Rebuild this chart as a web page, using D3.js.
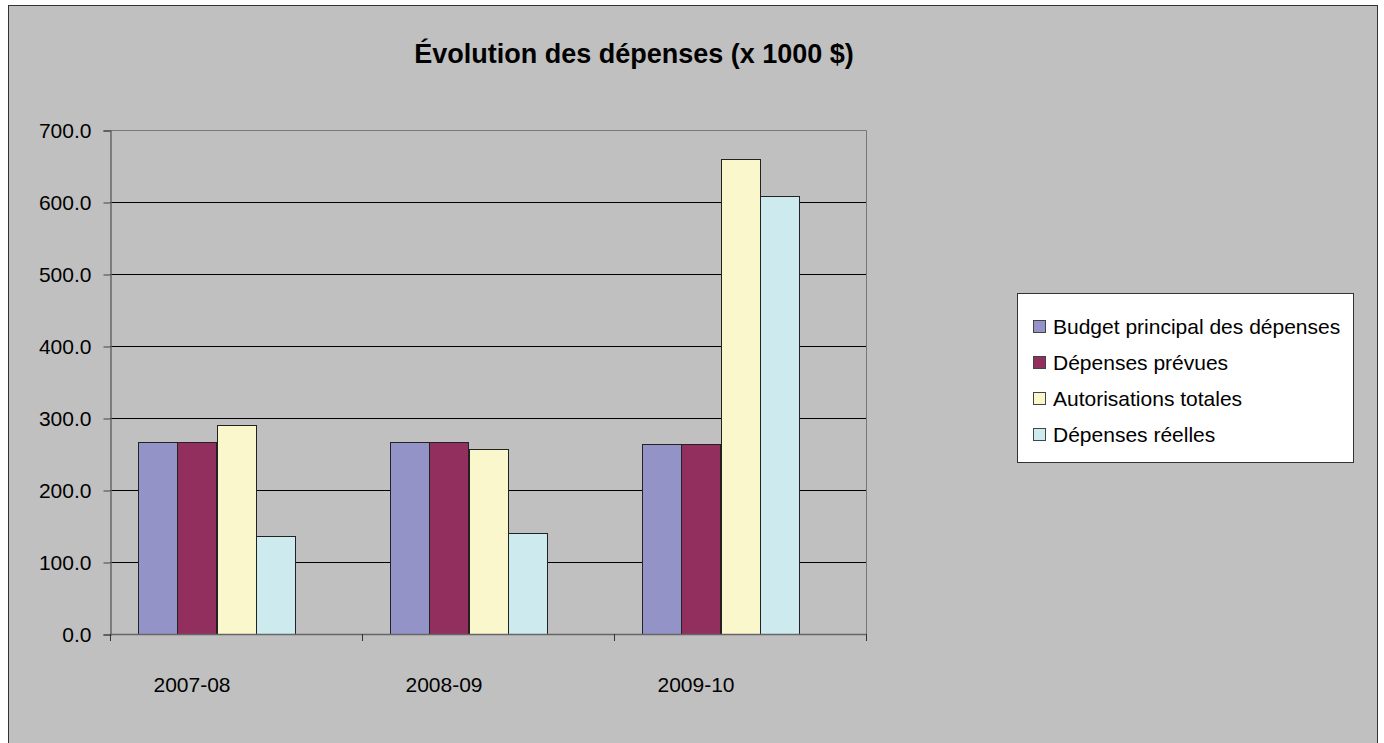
<!DOCTYPE html>
<html lang="fr">
<head>
<meta charset="utf-8">
<script src="https://d3js.org/d3.v7.min.js"></script>
<style>
  body { margin: 0; background: #fff; }
  text { font-family: "Liberation Sans", Arial, sans-serif; }
</style>
</head>
<body>
<script>
// data
var categories = ["2007-08", "2008-09", "2009-10"];
var series = ["Budget principal des dépenses", "Dépenses prévues", "Autorisations totales", "Dépenses réelles"];
var budget = [266, 266, 264];
var prevues = [266, 266, 264];
var autorisations = [290, 257, 660];
var reelles = [136.5, 140, 609];
var yTicks = [0, 100, 200, 300, 400, 500, 600, 700];

var colors = ["#9393c8", "#932f5e", "#faf7cd", "#cdebef"];
var values = [budget, prevues, autorisations, reelles];

var W = 1384, H = 743;
var svg = d3.select("body").append("svg")
    .attr("width", W)
    .attr("height", H);

// outer chart frame
svg.append("rect")
    .attr("x", 8.5).attr("y", 5.5)
    .attr("width", 1369).attr("height", 745)
    .attr("fill", "#c0c0c0")
    .attr("stroke", "#333")
    .attr("stroke-width", 1);

var plotLeft = 110, plotRight = 866, plotTop = 130, plotBottom = 634;

var x0 = d3.scaleBand()
    .domain(categories)
    .range([plotLeft, plotRight]);

// bars sit toward the left of each category slot
var x1 = d3.scaleBand()
    .domain(series)
    .range([28, 185]);

var y = d3.scaleLinear()
    .domain([0, 700])
    .range([plotBottom, plotTop]);

// gridlines
svg.append("g")
    .selectAll("line")
    .data(yTicks.filter(function(d) { return d > 0 && d < 700; }))
    .enter().append("line")
    .attr("x1", plotLeft).attr("x2", plotRight)
    .attr("y1", function(d) { return Math.round(y(d)) + 0.5; })
    .attr("y2", function(d) { return Math.round(y(d)) + 0.5; })
    .attr("stroke", "#000");

// plot border top/right
svg.append("path")
    .attr("d", "M" + plotLeft + "," + (plotTop + 0.5) + "H" + (plotRight + 0.5) + "V" + plotBottom)
    .attr("fill", "none")
    .attr("stroke", "#777");

// bars
series.forEach(function(s, si) {
    svg.append("g")
        .selectAll("rect")
        .data(categories)
        .enter().append("rect")
        .attr("x", function(c) { return Math.round(x0(c) + x1(s)) + 0.5; })
        .attr("y", function(c, i) { return Math.round(y(values[si][i])) + 0.5; })
        .attr("width", Math.round(x1.bandwidth()))
        .attr("height", function(c, i) { return Math.round(plotBottom - y(values[si][i])); })
        .attr("fill", colors[si])
        .attr("stroke", "#222")
        .attr("stroke-width", 1);
});

// y axis
var yAxis = d3.axisLeft(y)
    .tickValues(yTicks)
    .tickSize(7)
    .tickPadding(12)
    .tickFormat(d3.format(".1f"));
var gy = svg.append("g")
    .attr("transform", "translate(" + (plotLeft + 0.5) + ",0.5)")
    .call(yAxis);
gy.select(".domain").attr("stroke", "#666").attr("stroke-width", 1.5);
gy.selectAll(".tick line").attr("stroke", "#444");
gy.selectAll(".tick text")
    .attr("font-size", 21)
    .attr("fill", "#000")
    .style("font-family", "Liberation Sans, Arial, sans-serif");

// x axis with ticks at category boundaries
var gx = svg.append("g");
gx.append("line")
    .attr("x1", plotLeft).attr("x2", plotRight + 1)
    .attr("y1", plotBottom + 0.5).attr("y2", plotBottom + 0.5)
    .attr("stroke", "#666")
    .attr("stroke-width", 1.5);
gx.selectAll(".bt")
    .data(categories.concat(["end"]))
    .enter().append("line")
    .attr("x1", function(c, i) { return Math.round(plotLeft + i * x0.bandwidth()) + 0.5; })
    .attr("x2", function(c, i) { return Math.round(plotLeft + i * x0.bandwidth()) + 0.5; })
    .attr("y1", plotBottom).attr("y2", plotBottom + 7)
    .attr("stroke", "#333");
gx.selectAll("text")
    .data(categories)
    .enter().append("text")
    .attr("x", function(c) { return x0(c) + x0.bandwidth() / 2 - 44; })
    .attr("y", 692)
    .attr("text-anchor", "middle")
    .attr("font-size", 21)
    .text(function(c) { return c; });

// title
svg.append("text")
    .attr("x", 634)
    .attr("y", 63)
    .attr("text-anchor", "middle")
    .attr("font-size", 27)
    .attr("font-weight", "bold")
    .text("Évolution des dépenses (x 1000 $)");

// legend
var lg = svg.append("g");
lg.append("rect")
    .attr("x", 1017.5).attr("y", 293.5)
    .attr("width", 336).attr("height", 169)
    .attr("fill", "#fff")
    .attr("stroke", "#333");
var item = lg.selectAll(".item")
    .data(series)
    .enter().append("g")
    .attr("transform", function(d, i) { return "translate(1033," + (327 + i * 36) + ")"; });
item.append("rect")
    .attr("x", 0.5).attr("y", -6.5)
    .attr("width", 12).attr("height", 12)
    .attr("fill", function(d, i) { return colors[i]; })
    .attr("stroke", "#444");
item.append("text")
    .attr("x", 20)
    .attr("y", 7)
    .attr("font-size", 21)
    .text(function(d) { return d; });
</script>
</body>
</html>
